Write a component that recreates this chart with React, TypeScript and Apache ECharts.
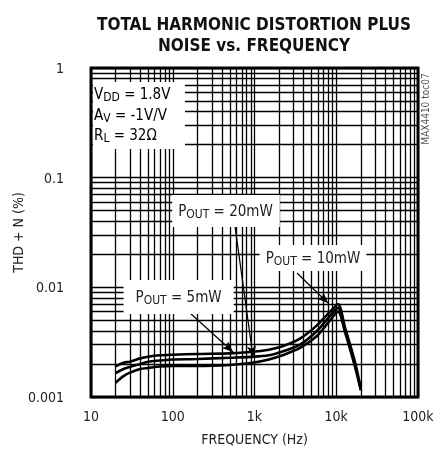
import React, { useEffect, useRef } from "react";
import * as echarts from "echarts";

const freqs = [20, 25, 30, 40, 50, 70, 100, 200, 500, 900, 1500, 2200, 3600, 5800, 8400, 10500, 12800, 16900, 20000];
const thd5mW = [0.0019, 0.00205, 0.0021, 0.00225, 0.00233, 0.0024, 0.00243, 0.00247, 0.0025, 0.00257, 0.0027, 0.0029, 0.0034, 0.0045, 0.006, 0.007, 0.0043, 0.0021, 0.00118];
const thd10mW = [0.00165, 0.0018, 0.00188, 0.002, 0.0021, 0.00215, 0.0022, 0.00222, 0.00228, 0.00232, 0.0024, 0.0026, 0.003, 0.004, 0.0055, 0.0065, 0.0041, 0.002, 0.00117];
const thd20mW = [0.00135, 0.00155, 0.00167, 0.0018, 0.00184, 0.0019, 0.00192, 0.00192, 0.00196, 0.00204, 0.0022, 0.0024, 0.0028, 0.0036, 0.005, 0.006, 0.0039, 0.0019, 0.00115];

const xTickValues = [10, 100, 1000, 10000, 100000];
const xTickLabels = ["10", "100", "1k", "10k", "100k"];
const yTickValues = [0.001, 0.01, 0.1, 1];
const yTickLabels = ["0.001", "0.01", "0.1", "1"];

const xMinorGrid = [20, 30, 40, 50, 60, 70, 80, 90, 200, 300, 400, 500, 600, 700, 800, 900, 2000, 3000, 4000, 5000, 6000, 7000, 8000, 9000, 20000, 30000, 40000, 50000, 60000, 70000, 80000, 90000];
const yMinorGrid = [0.002, 0.003, 0.004, 0.005, 0.006, 0.007, 0.008, 0.009, 0.02, 0.03, 0.04, 0.05, 0.06, 0.07, 0.08, 0.09, 0.2, 0.3, 0.4, 0.5, 0.6, 0.7, 0.8, 0.9];

// annotation positions in data coordinates [freq, thd]
const labelPoints = [
  { name: "20mW", coord: [448, 0.0497], pad: [7, 7, 7, 6] },
  { name: "10mW", coord: [5196, 0.01852], pad: [4, 6, 4, 6] },
  { name: "5mW", coord: [118, 0.00816], pad: [8, 12, 8, 12] },
];
const arrows = [
  [[577, 0.0362], [959, 0.00232]],
  [[3311, 0.01351], [7925, 0.0072]],
  [[162.6, 0.00583], [546, 0.00257]],
];

const FONT = '"Liberation Sans Narrow", "DejaVu Sans Condensed", "Roboto Condensed", "Liberation Sans", sans-serif';

export default function App() {
  const ref = useRef<HTMLDivElement>(null);
  useEffect(() => {
    if (!ref.current) return;
    const chart = echarts.init(ref.current, undefined, { renderer: "svg" });
    const labelFmt = (arr: number[], labs: string[]) => (v: number) => {
      const i = arr.findIndex((t) => Math.abs(Math.log10(t) - Math.log10(v)) < 1e-6);
      return i >= 0 ? labs[i] : "";
    };
    const curve = (data: number[]) => ({
      type: "line",
      data: freqs.map((f, i) => [f, data[i]]),
      symbol: "none",
      smooth: 0.3,
      z: 3,
      lineStyle: { color: "#000", width: 2.6 },
    });
    const rich = {
      a: { fontFamily: FONT, fontSize: 15, color: "#222" },
      s: { fontFamily: FONT, fontSize: 12, color: "#222", padding: [6, 0, 0, 0] },
    };
    chart.setOption({
      animation: false,
      grid: {
        left: 91, right: 15, top: 68, bottom: 60,
        containLabel: false, outerBoundsMode: "none",
        show: true, borderColor: "#000", borderWidth: 3, backgroundColor: "transparent", z: 10,
      },
      xAxis: {
        type: "log",
        logBase: 10,
        min: 10,
        max: 100000,
        name: "FREQUENCY (Hz)",
        nameLocation: "middle",
        nameGap: 35,
        nameMoveOverlap: false,
        nameTextStyle: { fontFamily: FONT, fontSize: 14, color: "#222" },
        axisLine: { show: false },
        axisTick: { show: false },
        axisLabel: { formatter: labelFmt(xTickValues, xTickLabels), fontFamily: FONT, fontSize: 14, color: "#222", margin: 12 },
        splitLine: { show: true, lineStyle: { color: "#000", width: 1.3 } },
      },
      yAxis: {
        type: "log",
        logBase: 10,
        min: 0.001,
        max: 1,
        name: "THD + N (%)",
        nameLocation: "middle",
        nameGap: 66,
        nameMoveOverlap: false,
        nameTextStyle: { fontFamily: FONT, fontSize: 14, color: "#222" },
        axisLine: { show: false },
        axisTick: { show: false },
        axisLabel: { formatter: labelFmt(yTickValues, yTickLabels), fontFamily: FONT, fontSize: 14, color: "#222", margin: 27 },
        splitLine: { show: true, lineStyle: { color: "#000", width: 1.3 } },
      },
      series: [
        {
          type: "line",
          data: [],
          z: 1,
          silent: true,
          markLine: {
            silent: true,
            precision: 6,
            symbol: ["none", "none"],
            label: { show: false },
            lineStyle: { color: "#000", width: 1.3, type: "solid" },
            data: [...xMinorGrid.map((v) => ({ xAxis: v })), ...yMinorGrid.map((v) => ({ yAxis: v }))],
          },
        },
        curve(thd5mW),
        curve(thd10mW),
        curve(thd20mW),
        {
          type: "line",
          data: [],
          z: 6,
          markLine: {
            silent: true,
            precision: 6,
            symbol: ["none", "arrow"],
            symbolSize: [7, 11],
            label: { show: false },
            lineStyle: { color: "#000", width: 1.2, type: "solid" },
            data: arrows.map((a) => [{ coord: a[0] }, { coord: a[1] }]),
          },
          markPoint: {
            silent: true,
            symbol: "rect",
            symbolSize: 1,
            itemStyle: { color: "transparent" },
            data: labelPoints.map((p) => ({
              coord: p.coord,
              label: {
                show: true,
                position: "inside",
                formatter: `{a|P}{s|OUT}{a| = ${p.name}}`,
                backgroundColor: "#fff",
                padding: p.pad,
                rich,
              },
            })),
          },
        },
      ],
      graphic: [
        {
          type: "text",
          x: 254,
          y: 13,
          style: {
            text: "TOTAL HARMONIC DISTORTION PLUS\nNOISE vs. FREQUENCY",
            fontFamily: FONT,
            fontWeight: "bold",
            fontSize: 17,
            lineHeight: 21,
            textAlign: "center",
            fill: "#111",
          },
        },
        { type: "rect", shape: { x: 93, y: 82, width: 92, height: 67 }, style: { fill: "#fff" }, z: 20 },
        {
          type: "text",
          x: 94,
          y: 84,
          z: 21,
          style: {
            text: "{a|V}{s|DD}{a| = 1.8V}\n{a|A}{s|V}{a| = -1V/V}\n{a|R}{s|L}{a| = 32Ω}",
            rich: {
              a: { fontFamily: FONT, fontSize: 15, color: "#222", lineHeight: 20.5 },
              s: { fontFamily: FONT, fontSize: 12, color: "#222", lineHeight: 20.5, padding: [6, 0, 0, 0] },
            },
          },
        },
        {
          type: "text",
          x: 425,
          y: 109,
          rotation: Math.PI / 2,
          style: { text: "MAX4410 toc07", fontFamily: FONT, fontSize: 10, fill: "#555", textAlign: "center", textVerticalAlign: "middle" },
        },
      ],
    });
    return () => chart.dispose();
  }, []);
  return <div ref={ref} style={{ position: "fixed", left: 0, top: 0, width: 433, height: 457 }} />;
}
